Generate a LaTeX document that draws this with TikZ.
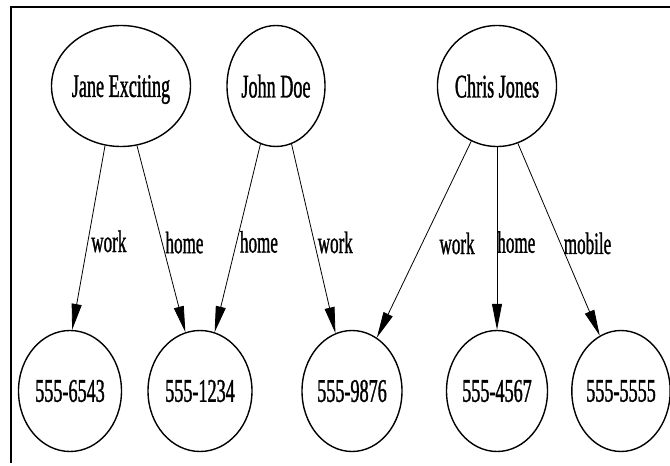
\documentclass[tikz,border=0pt]{standalone}
\usepackage{fontspec}
\setmainfont[FakeStretch=0.55,FakeBold=1]{Liberation Serif}
\usetikzlibrary{shapes.geometric}
\usetikzlibrary{arrows.meta}
\usetikzlibrary{positioning}

\begin{document}
\begin{tikzpicture}[x=1pt,y=1pt,
	person/.style={draw,ellipse,line width=1.4pt,minimum height=121pt,inner sep=0pt,text depth=0pt,font=\fontsize{33pt}{33pt}\selectfont},
	phone/.style={draw,ellipse,line width=1.4pt,minimum width=101pt,minimum height=121pt,inner sep=0pt,font=\fontsize{33pt}{33pt}\selectfont},
	rel/.style={line width=.8pt,-{Triangle[length=26pt,width=10pt]}},
	lbl/.style={right,inner sep=3pt,font=\fontsize{31pt}{31pt}\selectfont}]
	\useasboundingbox (0,0) rectangle (670,466);
	\draw[line width=2pt] (11,3)--(11,459)--(670,459);
	
	% people
	\node [person,minimum width=127pt] (jane) at (121,380) {Jane Exciting};
	\node [person,minimum width=98pt] (john) at (276,380) {John Doe};
	\node [person,minimum width=115pt] (chris) at (497,380) {Chris Jones};
	
	% numbers
	\node [phone,minimum width=103pt] (p6543) at (70,75) {555-6543};
	\node [phone,minimum width=104pt] (p1234) at (200,75) {555-1234};
	\node [phone,minimum width=100pt] (p9876) at (352,75) {555-9876};
	\node [phone] (p4567) at (497,75) {555-4567};
	\node [phone,minimum width=96pt] (p5555) at (621,75) {555-5555};
	
	\draw[rel] (jane.255) -- node[lbl,pos=.52] {work} (p6543.88);
	\draw[rel] (jane.285) -- node[lbl,pos=.52] {home} (p1234.104);
	\draw[rel] (john.255) -- node[lbl,pos=.52] {home} (p1234.76);
	\draw[rel] (john.285) -- node[lbl,pos=.52] {work} (p9876.106);
	\draw[rel] (chris.245) -- node[lbl,pos=.52,xshift=14pt] {work} (p9876.65);
	\draw[rel] (chris.270) -- node[lbl,pos=.52,xshift=-3pt] {home} (p4567.90);
	\draw[rel] (chris.290) -- node[lbl,pos=.52] {mobile} (p5555.111);
	
\end{tikzpicture}
\end{document}
